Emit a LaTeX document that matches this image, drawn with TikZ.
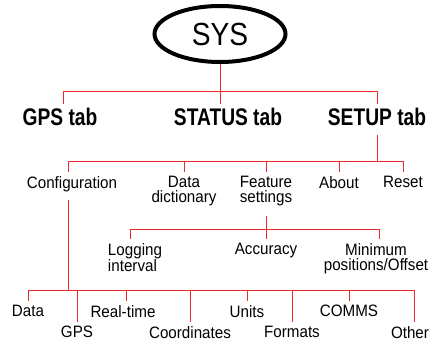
\documentclass[tikz,border=0pt]{standalone}
\usepackage{fontspec}
\setmainfont{Liberation Sans}
\newfontfamily\tabfont[FakeStretch=0.8]{Liberation Sans}
\newfontfamily\labfont[FakeStretch=0.92]{Liberation Sans}
\newfontfamily\sysfont[FakeStretch=0.88]{Liberation Sans}
\usetikzlibrary{shapes.geometric}
\definecolor{linkred}{RGB}{238,40,45}
\tikzset{
  link/.style={draw=linkred, line width=1pt},
  tabnode/.style={font={\tabfont\bfseries\fontsize{24}{24}\selectfont}, anchor=north, inner xsep=0pt, inner ysep=4pt},
  itemnode/.style={font={\labfont\fontsize{16.5}{15}\selectfont}, anchor=north, align=center, inner xsep=0pt, inner ysep=4pt},
}

\begin{document}
\begin{tikzpicture}[x=1pt,y=-1pt]
            \useasboundingbox (0,0) rectangle (430,344);

            \node[ellipse, draw, line width=4pt, minimum width=131pt, minimum height=56pt, inner sep=0pt,
                  font={\sysfont\fontsize{32}{32}\selectfont}] (sys) at (220,34) {SYS};

            \node[tabnode] (gpstab) at (60,104) {GPS tab};
            \node[tabnode] (statustab) at (228,104) {STATUS tab};
            \node[tabnode] (setuptab) at (377,104) {SETUP tab};

            \node[itemnode] (config) at (72,172) {Configuration};
            \node[itemnode] (datadict) at (184,172) {Data\\dictionary};
            \node[itemnode] (feature) at (266,172) {Feature\\settings};
            \node[itemnode] (about) at (339,172) {About};
            \node[itemnode] (reset) at (403,172) {Reset};

            \node[itemnode, align=left] (logging) at (135,239) {Logging\\interval};
            \node[itemnode] (accuracy) at (266,239) {Accuracy};
            \node[itemnode] (minimum) at (376,239) {Minimum\\positions/Offset};

            \node[itemnode] (data) at (28,301) {Data};
            \node[itemnode] (realtime) at (123,301) {Real-time};
            \node[itemnode] (units) at (247,301) {Units};
            \node[itemnode] (comms) at (349,301) {COMMS};
            \node[itemnode] (gps) at (77,322) {GPS};
            \node[itemnode] (coords) at (190,322) {Coordinates};
            \node[itemnode] (formats) at (292,322) {Formats};
            \node[itemnode] (other) at (410,322) {Other};

            \coordinate (b1) at (0,92);
            \coordinate (b2) at (0,162);
            \coordinate (b3) at (0,230);
            \coordinate (b4) at (0,290);

            \draw[link] (sys.south) -- (sys.south |- b1);
            \draw[link] ([xshift=3pt]gpstab.north) |- (setuptab.north |- b1) -- (setuptab.north);
            \draw[link] (statustab.north -| sys.south) -- (sys.south |- b1);

            \draw[link] ([yshift=-5pt]setuptab.south) -- (setuptab.south |- b2);
            \draw[link] ([xshift=-4pt]config.north) |- (reset.north |- b2) -- (reset.north);
            \foreach \n in {datadict,feature,about}
                \draw[link] (\n.north) -- (\n.north |- b2);

            \draw[link] ([yshift=-6pt]feature.south) -- (accuracy.north);
            \draw[link] ([xshift=-5pt]logging.north) |- ([xshift=3pt]minimum.north |- b3) -- ([xshift=3pt]minimum.north);

            \draw[link] ([xshift=-4pt,yshift=-4pt]config.south) -- ([xshift=-4pt]config.south |- b4);
            \draw[link] (data.north) |- ([xshift=4pt]other.north |- b4) -- ([xshift=4pt]other.north);
            \draw[link] ([xshift=3pt]realtime.north) -- ([xshift=3pt]realtime.north |- b4);
            \foreach \n in {gps,coords,units,formats,comms}
                \draw[link] (\n.north) -- (\n.north |- b4);
        \end{tikzpicture}
\end{document}
